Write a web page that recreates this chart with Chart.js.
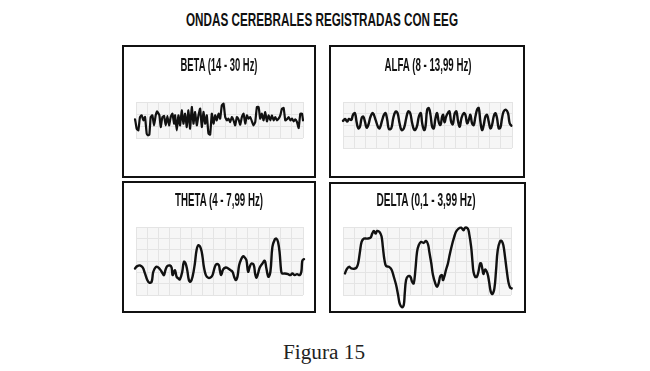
<!DOCTYPE html>
<html><head><meta charset="utf-8">
<script src="https://cdn.jsdelivr.net/npm/chart.js@4.4.0/dist/chart.umd.min.js"></script>
<style>
html,body{margin:0;padding:0;background:#fff;width:650px;height:371px;overflow:hidden;position:relative}
.box{position:absolute;box-sizing:border-box;border:2.5px solid #111}
canvas{position:absolute}
.t{position:absolute;white-space:nowrap;font-family:"Liberation Sans Narrow","Liberation Sans",sans-serif;font-weight:bold;font-size:18px;line-height:18px;color:#111;transform-origin:50% 50%}
.cap{position:absolute;white-space:nowrap;font-family:"Liberation Serif",serif;font-size:20px;line-height:20px;color:#222;transform-origin:50% 50%}
</style></head><body>
<script>
// ---- data (time in arbitrary units, amplitude in arbitrary units) ----
const mainTitle = 'ONDAS CEREBRALES REGISTRADAS CON EEG';
const caption = 'Figura 15';
const panelTitles = ['BETA (14 - 30 Hz)', 'ALFA (8 - 13,99 Hz)', 'THETA (4 - 7,99 Hz)', 'DELTA (0,1 - 3,99 Hz)'];

const betaT = [-20,-8,-3,2,7,12,17,22,27,32,36,40,44,49,54,59,63,70,74,79,84,89,94,99,104,109,114,117,122,127,132,137,142,147,152,157,162,167,172,177,182,187,192,197,202,207,212,217,222,227,232,237,242,247,252,257,262,267,272,277,282,287,292,297,302,307,312,317,322,327,332,337,342,347,352,357,362,367,372,377,382,387,392,397,402,407,412,417,422,427,432,437,442,447,452,457,462,467,472,477,482,487,492,497,500];
const betaV = [-4,-1,2,-26,-31,9,14,-1,9,-41,-46,-44,9,14,-16,14,26,14,-21,9,12,-16,12,-16,9,19,-11,14,-31,14,-16,29,-11,19,-21,29,-26,39,-11,24,-16,14,34,-21,24,-11,14,-41,-44,19,-11,14,-1,19,4,44,49,9,-1,4,-6,9,-1,-16,9,2,-14,9,19,-11,14,4,9,-4,-16,-6,39,39,4,19,-1,24,-4,14,-1,14,-1,9,-1,4,14,34,36,-1,2,9,-1,4,-4,2,-6,-24,19,19,-1];

const alfaT = [0,6,13,18,25,30,36,41,46,51,56,61,66,71,76,83,90,98,105,110,118,123,128,133,138,145,151,158,164,170,176,183,190,196,202,208,215,222,228,234,238,244,248,253,258,263,268,273,278,283,288,293,298,301,305,310,315,320,325,330,336,341,346,351,356,363,368,373,378,383,388,393,398,403,408,413,418,423,428,433,438,443,448,453,458,463,468,473,478,483,490,496,501,506];
const alfaV = [12,18,10,18,15,30,35,8,-10,-5,20,25,10,-8,0,25,35,15,-5,-10,15,30,35,15,-12,-10,20,40,35,5,-15,-10,20,40,35,5,-15,-5,25,35,5,-15,-5,45,50,30,-5,-10,20,35,8,0,25,30,8,25,35,40,10,2,35,40,10,-5,20,35,30,5,15,30,5,0,25,45,50,10,-15,0,25,30,10,-10,0,25,35,20,-10,-8,20,40,45,35,5,-2];

const thetaT = [-10,-3,4,12,20,27,34,40,47,52,60,67,74,80,84,89,94,102,107,110,117,122,127,132,139,144,149,154,159,164,170,177,182,188,195,200,204,210,217,224,230,237,242,249,252,256,262,270,277,284,290,295,300,305,310,315,322,327,332,337,342,347,354,358,362,367,372,380,387,392,398,404,410,417,422,427,432,436,439,447,457,464,470,477,484,492,497,500,505,512];
const thetaV = [-33,-23,-16,-14,-20,-38,-58,-66,-63,-33,-18,-20,-28,-38,-43,-26,-16,-14,-20,-43,-28,-48,-53,-56,-33,-3,-8,-28,-58,-63,-48,-8,32,47,37,12,-18,-43,-51,-50,-43,-18,-10,-13,-28,-43,-26,-20,-23,-28,-33,-48,-58,-48,-13,2,14,10,2,-33,-18,-8,-13,-38,-51,-38,-20,-8,0,-23,-48,-33,42,64,67,57,22,-28,-38,-38,-40,-43,-38,-43,-40,-43,-33,0,5,4];

const deltaT = [6,11,18,25,33,41,46,51,56,63,73,83,88,93,98,103,110,116,120,125,130,138,146,153,160,166,171,178,183,186,190,196,203,208,213,218,223,228,235,243,250,256,260,266,271,278,283,288,293,298,301,305,310,316,321,328,335,340,348,356,363,368,376,380,386,390,393,398,403,408,413,416,420,423,428,435,440,445,450,456,461,466,473,478,483,488,493,498,503,508];
const deltaV = [-38,-26,-18,-23,-24,-20,-6,27,57,67,67,70,82,90,82,90,87,74,42,2,-16,-18,-26,-48,-73,-103,-130,-140,-133,-98,-58,-46,-48,-63,-68,-28,27,47,57,54,60,50,27,-8,-43,-68,-78,-68,-46,-43,-58,-48,-28,-8,17,47,72,87,97,100,92,100,97,82,42,-3,-33,-48,-48,-33,-8,-8,-26,-40,-26,-38,-63,-93,-100,-83,-28,32,59,60,47,12,-28,-63,-80,-83];

// ---- layout ----
const panels = [
  {t:betaT, v:betaV, box:[122,45,194,133], grid:[136,102,303,138], xr:[0,500], yr:[-54,54], cols:15, rows:3, tension:0.15, lw:2.2, title:0, cx:218.5, capTop:58.3, tw:77},
  {t:alfaT, v:alfaV, box:[329,45,196,133], grid:[343,102,512,148], xr:[0,508], yr:[-68,68], cols:15, rows:4, tension:0.4, lw:2.4, title:1, cx:427.5, capTop:58.3, tw:87},
  {t:thetaT, v:thetaV, box:[122,181,194,132], grid:[136,227,303,295], xr:[0,502], yr:[-103,102], cols:15, rows:6, tension:0.4, lw:2.4, title:2, cx:219, capTop:193.3, tw:88},
  {t:deltaT, v:deltaV, box:[329,182,197,131], grid:[343,227,511,295], xr:[0,506], yr:[-103,102], cols:15, rows:6, tension:0.4, lw:2.4, title:3, cx:425.5, capTop:193.3, tw:99}
];

const bgPlugin = {
  id:'bg',
  beforeDraw(chart){
    const a = chart.chartArea, ctx = chart.ctx;
    ctx.save(); ctx.fillStyle = '#f6f6f6';
    ctx.fillRect(a.left, a.top, a.right-a.left, a.bottom-a.top);
    ctx.restore();
  }
};

function addText(cls, txt, cx, capTop, targetW, offset){
  const d = document.createElement('div');
  d.className = cls; d.textContent = txt;
  d.style.left = cx+'px'; d.style.top = (capTop-offset)+'px';
  document.body.appendChild(d);
  const w = d.getBoundingClientRect().width;
  d.style.transform = 'translateX(-50%) scaleX(' + (targetW/w) + ')';
}

function evenTicks(min, max, n){
  const arr = [];
  for (let i=0;i<=n;i++) arr.push({value: min + (max-min)*i/n});
  return arr;
}

panels.forEach(p => {
  const b = document.createElement('div');
  b.className = 'box';
  b.style.left = p.box[0]+'px'; b.style.top = p.box[1]+'px';
  b.style.width = p.box[2]+'px'; b.style.height = p.box[3]+'px';
  document.body.appendChild(b);

  const c = document.createElement('canvas');
  c.width = p.box[2]; c.height = p.box[3];
  c.style.left = p.box[0]+'px'; c.style.top = p.box[1]+'px';
  document.body.appendChild(c);

  const [gx0,gy0,gx1,gy1] = p.grid;
  new Chart(c, {
    type:'line',
    data:{datasets:[{
      data: p.t.map((t,i)=>({x:t, y:p.v[i]})),
      borderColor:'#111', borderWidth:p.lw, pointRadius:0, tension:p.tension,
      clip:false, borderCapStyle:'round', borderJoinStyle:'round', fill:false
    }]},
    options:{
      responsive:false, animation:false, events:[],
      layout:{padding:{left:gx0-p.box[0], top:gy0-p.box[1], right:p.box[0]+p.box[2]-gx1, bottom:p.box[1]+p.box[3]-gy1}},
      plugins:{legend:{display:false}, tooltip:{enabled:false}, title:{display:false}},
      scales:{
        x:{type:'linear', min:p.xr[0], max:p.xr[1],
           afterBuildTicks: s => { s.ticks = evenTicks(p.xr[0], p.xr[1], p.cols); },
           ticks:{display:false}, grid:{color:'#e4e4e4', drawTicks:false, lineWidth:1}, border:{display:false}},
        y:{type:'linear', min:p.yr[0], max:p.yr[1],
           afterBuildTicks: s => { s.ticks = evenTicks(p.yr[0], p.yr[1], p.rows); },
           ticks:{display:false}, grid:{color:'#e4e4e4', drawTicks:false, lineWidth:1}, border:{display:false}}
      }
    },
    plugins:[bgPlugin]
  });

  addText('t', panelTitles[p.title], p.cx, p.capTop, p.tw, 2.1);
});

addText('t', mainTitle, 322, 12.7, 272, 2.1);
addText('cap', caption, 324, 345, 82, 3.5);
</script>
</body></html>
